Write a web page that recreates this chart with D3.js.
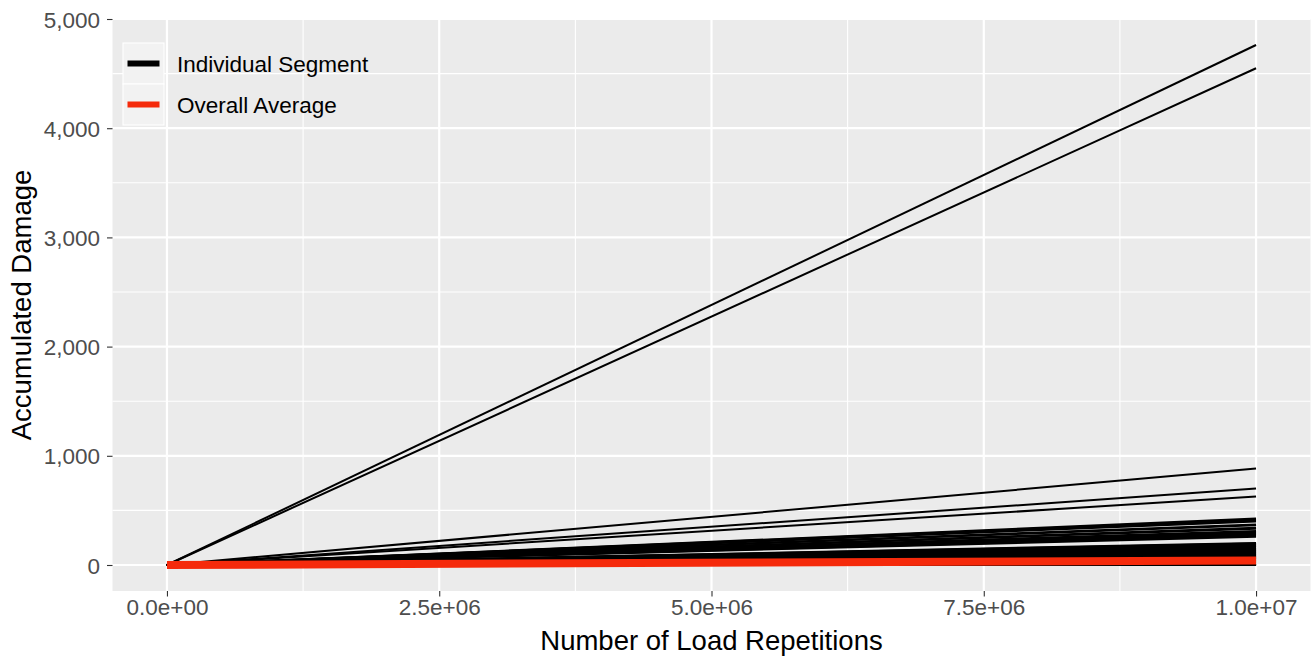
<!DOCTYPE html>
<html>
<head>
<meta charset="utf-8">
<script src="https://cdn.jsdelivr.net/npm/d3@7"></script>
<style>
  html, body { margin: 0; padding: 0; background: #fff; }
  svg { display: block; font-family: "Liberation Sans", Arial, sans-serif; }
</style>
</head>
<body>
<svg id="chart" width="1312" height="656"></svg>
<script>
// ---- data ----
const xStart = 0;
const xEnd = 1e7;
// accumulated damage of each individual segment at 1e7 repetitions
const segmentEndValues = [
  4762, 4549, 883, 700, 627,
  425, 416, 408, 398, 372, 364, 340, 332, 312, 303, 294, 285, 276, 267, 259,
  202, 196, 190, 184, 178, 172, 166, 160, 154, 148, 142, 136, 130, 124, 118, 112, 106, 100,
  94, 88, 82, 76, 70, 64, 58, 52, 46, 40, 34, 28, 22, 16, 10, 5, 2, 0.5, 0
];
const overallAverageEnd = 42;
const xTickValues = [0, 2.5e6, 5e6, 7.5e6, 1e7];
const xTickLabels = ["0.0e+00", "2.5e+06", "5.0e+06", "7.5e+06", "1.0e+07"];
const xMinorValues = [1.25e6, 3.75e6, 6.25e6, 8.75e6];
const yTickValues = [0, 1000, 2000, 3000, 4000, 5000];
const yTickLabels = ["0", "1,000", "2,000", "3,000", "4,000", "5,000"];
const yMinorValues = [500, 1500, 2500, 3500, 4500];
const legendLabels = ["Individual Segment", "Overall Average"];
const legendColors = ["#000000", "#F52A0B"];

// ---- layout ----
const svg = d3.select("#chart");
const panel = { left: 112.5, right: 1310.5, top: 19, bottom: 591 };

const xExp = (xEnd - xStart) * 0.05;
const x = d3.scaleLinear().domain([xStart - xExp, xEnd + xExp]).range([panel.left, panel.right]);
const yMax = d3.max(segmentEndValues), yMin = 0;
const yExp = (yMax - yMin) * 0.05;
const y = d3.scaleLinear().domain([yMin - yExp, yMax + yExp]).range([panel.bottom, panel.top]);

// panel background
svg.append("rect")
  .attr("x", panel.left).attr("y", panel.top)
  .attr("width", panel.right - panel.left).attr("height", panel.bottom - panel.top)
  .attr("fill", "#EBEBEB");

const grid = svg.append("g");
// minor grid
grid.selectAll(".ym").data(yMinorValues).join("line")
  .attr("x1", panel.left).attr("x2", panel.right)
  .attr("y1", d => y(d)).attr("y2", d => y(d))
  .attr("stroke", "#fff").attr("stroke-width", 1.1);
grid.selectAll(".xm").data(xMinorValues).join("line")
  .attr("y1", panel.top).attr("y2", panel.bottom)
  .attr("x1", d => x(d)).attr("x2", d => x(d))
  .attr("stroke", "#fff").attr("stroke-width", 1.1);
// major grid
grid.selectAll(".yM").data(yTickValues).join("line")
  .attr("x1", panel.left).attr("x2", panel.right)
  .attr("y1", d => y(d)).attr("y2", d => y(d))
  .attr("stroke", "#fff").attr("stroke-width", 2.2);
grid.selectAll(".xM").data(xTickValues).join("line")
  .attr("y1", panel.top).attr("y2", panel.bottom)
  .attr("x1", d => x(d)).attr("x2", d => x(d))
  .attr("stroke", "#fff").attr("stroke-width", 2.2);

// lines
const line = d3.line().x(d => x(d[0])).y(d => y(d[1]));
svg.append("g").selectAll("path").data(segmentEndValues).join("path")
  .attr("d", v => line([[xStart, 0], [xEnd, v]]))
  .attr("fill", "none").attr("stroke", "#000").attr("stroke-width", 2);
svg.append("path")
  .attr("d", line([[xStart, 0], [xEnd, overallAverageEnd]]))
  .attr("fill", "none").attr("stroke", legendColors[1]).attr("stroke-width", 8);

// axes
const xAxis = d3.axisBottom(x).tickValues(xTickValues)
  .tickFormat((d, i) => xTickLabels[i]).tickSizeInner(5.5).tickSizeOuter(0).tickPadding(4);
const gx = svg.append("g").attr("transform", `translate(0,${panel.bottom})`).call(xAxis);
gx.select(".domain").remove();
gx.selectAll(".tick line").attr("stroke", "#333").attr("stroke-width", 1.1);
gx.selectAll(".tick text").attr("fill", "#4D4D4D").attr("font-size", 22.5)
  .attr("dy", null).attr("y", 24);

const yAxis = d3.axisLeft(y).tickValues(yTickValues)
  .tickFormat((d, i) => yTickLabels[i]).tickSizeInner(5.5).tickSizeOuter(0).tickPadding(7);
const gy = svg.append("g").attr("transform", `translate(${panel.left},0)`).call(yAxis);
gy.select(".domain").remove();
gy.selectAll(".tick line").attr("stroke", "#333").attr("stroke-width", 1.1);
gy.selectAll(".tick text").attr("fill", "#4D4D4D").attr("font-size", 22.5).attr("dy", "0.36em");

// axis titles
svg.append("text")
  .attr("x", (panel.left + panel.right) / 2).attr("y", 650)
  .attr("text-anchor", "middle").attr("font-size", 27.5).attr("fill", "#000")
  .text("Number of Load Repetitions");
svg.append("text")
  .attr("transform", `translate(31,${(panel.top + panel.bottom) / 2}) rotate(-90)`)
  .attr("text-anchor", "middle").attr("font-size", 27.5).attr("fill", "#000")
  .text("Accumulated Damage");

// legend
const legend = svg.append("g").attr("transform", "translate(123,43)");
const keySize = 41;
const items = legend.selectAll("g").data(legendLabels).join("g")
  .attr("transform", (d, i) => `translate(0,${i * keySize})`);
items.append("rect").attr("width", keySize).attr("height", keySize)
  .attr("fill", "#F2F2F2").attr("stroke", "#fff").attr("stroke-width", 1.1);
items.append("line").attr("x1", 4.5).attr("x2", keySize - 4.5)
  .attr("y1", keySize / 2).attr("y2", keySize / 2)
  .attr("stroke", (d, i) => legendColors[i]).attr("stroke-width", 6);
items.append("text").attr("x", 54).attr("y", keySize / 2).attr("dy", "0.36em")
  .attr("font-size", 22.5).attr("fill", "#000").text(d => d);
</script>
</body>
</html>
